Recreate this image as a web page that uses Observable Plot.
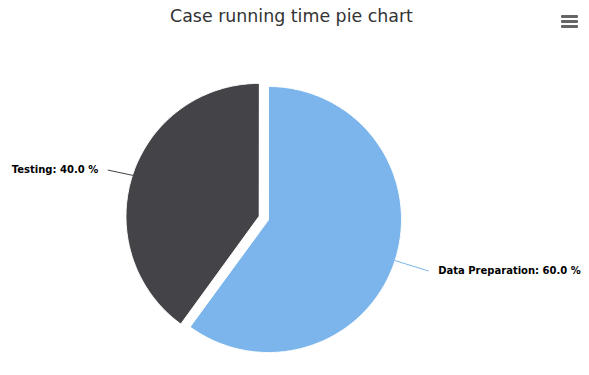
<!DOCTYPE html>
<html><head><meta charset="utf-8">
<script src="https://cdn.jsdelivr.net/npm/d3@7"></script>
<script src="https://cdn.jsdelivr.net/npm/@observablehq/plot@0.6"></script>
<style>
body{margin:0;background:#fff;font-family:"DejaVu Sans",sans-serif}
#wrap{position:relative;width:589px;height:375px;overflow:hidden}
#title{position:absolute;left:-3px;top:6px;width:589px;text-align:center;font-size:17.4px;color:#333333;font-family:"DejaVu Sans",sans-serif;z-index:2}
#menu{position:absolute;left:561px;top:15px;width:17px;z-index:2}
#menu div{height:3px;background:#666666;margin-bottom:2px;border-radius:1px}
#chart{position:absolute;left:0;top:0}
</style></head><body>
<div id="wrap">
  <div id="title">Case running time pie chart</div>
  <div id="menu"><div></div><div></div><div></div></div>
  <div id="chart"></div>
</div>
<script>
const categories = ["Data Preparation", "Testing"];
const values = [60, 40];
const colors = ["#7cb5ec", "#434348"];
const sliced = [false, true];

const W = 589, H = 375;
const cx = 268, cy = 219, r = 133, sliceOffset = 10, labelDistance = 30;

const total = d3.sum(values);
const arcs = d3.pie().sort(null).value(d => d)(values);

const wedgePts = [];
const connectors = [];
const labels = [];
arcs.forEach((a, i) => {
  const name = categories[i];
  const mid = (a.startAngle + a.endAngle) / 2;
  const dx = Math.sin(mid), dy = -Math.cos(mid);
  const off = sliced[i] ? sliceOffset : 0;
  const ox = cx + off * dx, oy = cy + off * dy;
  wedgePts.push({name, x: ox, y: oy});
  const n = Math.max(2, Math.ceil((a.endAngle - a.startAngle) / (Math.PI / 360)));
  for (let k = 0; k <= n; k++) {
    const t = a.startAngle + (a.endAngle - a.startAngle) * k / n;
    wedgePts.push({name, x: ox + r * Math.sin(t), y: oy - r * Math.cos(t)});
  }
  const R = r + labelDistance;
  const ly = cy + R * dy + 1;
  const side = dx >= 0 ? 1 : -1;
  const lx = cx + side * (Math.sqrt(Math.max(0, R * R - (ly - cy) ** 2)) + 5);
  connectors.push({name, x: ox + r * dx, y: oy + r * dy});
  connectors.push({name, x: lx, y: ly});
  labels.push({name, x: lx + side * 10, y: ly, anchor: side > 0 ? "start" : "end",
    text: `${name}: ${(values[i] / total * 100).toFixed(1)} %`});
});

const chart = Plot.plot({
  width: W, height: H,
  margin: 0,
  x: {domain: [0, W], range: [0, W], axis: null},
  y: {domain: [0, H], range: [0, H], axis: null},
  color: {domain: categories, range: colors},
  style: {background: "transparent", overflow: "visible"},
  marks: [
    Plot.line(wedgePts, {x: "x", y: "y", z: "name", fill: "name", stroke: "#ffffff", strokeWidth: 1, curve: "linear-closed"}),
    Plot.line(connectors, {x: "x", y: "y", z: "name", stroke: "name", strokeWidth: 1}),
    Plot.text(labels.filter(d => d.anchor === "start"), {x: "x", y: "y", text: "text", textAnchor: "start", lineAnchor: "middle", fontSize: 10, fontWeight: "bold", fill: "#000000", fontFamily: "DejaVu Sans"}),
    Plot.text(labels.filter(d => d.anchor === "end"), {x: "x", y: "y", text: "text", textAnchor: "end", lineAnchor: "middle", fontSize: 10, fontWeight: "bold", fill: "#000000", fontFamily: "DejaVu Sans"})
  ]
});
document.getElementById("chart").appendChild(chart);
</script>
</body></html>
